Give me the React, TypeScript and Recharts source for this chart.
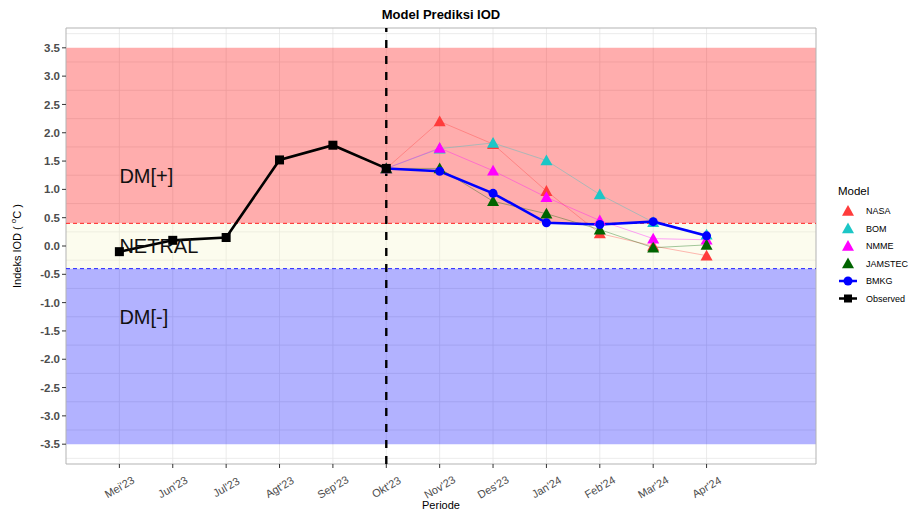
import React from 'react'
import {
  CartesianGrid,
  Line,
  LineChart,
  ReferenceArea,
  ReferenceDot,
  ReferenceLine,
  XAxis,
  YAxis
} from 'recharts'

// categories and values
const periods = ["Mei'23", "Jun'23", "Jul'23", "Agt'23", "Sep'23", "Okt'23", "Nov'23", "Des'23", "Jan'24", "Feb'24", "Mar'24", "Apr'24"]
const observed = [-0.1, 0.1, 0.15, 1.52, 1.78, 1.37, null, null, null, null, null, null]
const nasa = [null, null, null, null, null, 1.37, 2.2, 1.8, 0.97, 0.22, 0.0, -0.17]
const bom = [null, null, null, null, null, 1.37, 1.72, 1.82, 1.51, 0.91, 0.42, 0.2]
const nmme = [null, null, null, null, null, 1.37, 1.73, 1.33, 0.86, 0.45, 0.13, 0.11]
const jamstec = [null, null, null, null, null, 1.37, 1.37, 0.79, 0.57, 0.29, -0.03, 0.02]
const bmkg = [null, null, null, null, null, 1.37, 1.32, 0.93, 0.41, 0.38, 0.43, 0.18]
const yTicks = [-3.5, -3, -2.5, -2, -1.5, -1, -0.5, 0, 0.5, 1, 1.5, 2, 2.5, 3, 3.5]
const yMinor = [-3.75, -3.5, -3.25, -3, -2.75, -2.5, -2.25, -2, -1.75, -1.5, -1.25, -1, -0.75, -0.5, -0.25, 0, 0.25, 0.5, 0.75, 1, 1.25, 1.5, 1.75, 2, 2.25, 2.5, 2.75, 3, 3.25, 3.5, 3.75]
const xTicks = [0, 1, 2, 3, 4, 5, 6, 7, 8, 9, 10, 11]

const models = [
  { key: 'nasa', name: 'NASA', color: '#ff3c3c' },
  { key: 'bom', name: 'BOM', color: '#1cc6c6' },
  { key: 'nmme', name: 'NMME', color: '#ff00ff' },
  { key: 'jamstec', name: 'JAMSTEC', color: '#006400' }
]

const data = periods.map((p, i) => ({
  idx: i,
  period: p,
  observed: observed[i],
  nasa: nasa[i],
  bom: bom[i],
  nmme: nmme[i],
  jamstec: jamstec[i],
  bmkg: bmkg[i]
}))

const font = '"Liberation Sans", Arial, sans-serif'
const xDomain = [-1, 13.05]
const yDomain = [-3.85, 3.85]

const TriDot = (props: any) => {
  const { cx, cy, fill, value } = props
  if (cx == null || cy == null || value == null) return null
  const s = 6
  return <polygon points={`${cx},${cy - s} ${cx - s},${cy + s * 0.8} ${cx + s},${cy + s * 0.8}`} fill={fill} />
}

const SquareDot = (props: any) => {
  const { cx, cy, value } = props
  if (cx == null || cy == null || value == null) return null
  return <rect x={cx - 4.5} y={cy - 4.5} width={9} height={9} fill="#000" />
}

const XTick = (props: any) => {
  const { x, y, payload } = props
  const ty = y + 17
  return (
    <text x={x} y={ty} transform={`rotate(-30 ${x} ${ty})`} textAnchor="middle" dominantBaseline="central"
      fontSize={11} fill="#4d4d4d" fontFamily={font}>
      {periods[payload.value]}
    </text>
  )
}

const YLabel = (props: any) => {
  const { viewBox } = props
  const cx = viewBox.x + 17
  const cy = viewBox.y + viewBox.height / 2
  return (
    <text x={cx} y={cy} transform={`rotate(-90 ${cx} ${cy})`} textAnchor="middle" dominantBaseline="central"
      fontSize={11} fill="#000" fontFamily={font}>
      Indeks IOD ( <tspan fontSize={8} dy={-4}>o</tspan><tspan dy={4}>C )</tspan>
    </text>
  )
}

const Anno = (props: any) => {
  const { viewBox, text } = props
  return (
    <text x={viewBox.x} y={viewBox.y} dominantBaseline="central" fontSize={20} fill="#111" fontFamily={font}>
      {text}
    </text>
  )
}

const LegendBox = () => (
  <svg width={90} height={130} style={{ position: 'absolute', left: 832, top: 182, fontFamily: font }}>
    <text x={6} y={13} fontSize={11.5} fill="#000">Model</text>
    {models.map((m, i) => {
      const cy = 29 + i * 17.5
      return (
        <g key={m.key}>
          <TriDot cx={16} cy={cy} fill={m.color} value={1} />
          <text x={34} y={cy} dominantBaseline="central" fontSize={9} fill="#000">{m.name}</text>
        </g>
      )
    })}
    <g>
      <line x1={7} x2={25} y1={29 + 4 * 17.5} y2={29 + 4 * 17.5} stroke="#0000ff" strokeWidth={2.5} />
      <circle cx={16} cy={29 + 4 * 17.5} r={4.5} fill="#0000ff" />
      <text x={34} y={29 + 4 * 17.5} dominantBaseline="central" fontSize={9} fill="#000">BMKG</text>
    </g>
    <g>
      <line x1={7} x2={25} y1={29 + 5 * 17.5} y2={29 + 5 * 17.5} stroke="#000" strokeWidth={2.5} />
      <rect x={12} y={29 + 5 * 17.5 - 4} width={8} height={8} fill="#000" />
      <text x={34} y={29 + 5 * 17.5} dominantBaseline="central" fontSize={9} fill="#000">Observed</text>
    </g>
  </svg>
)

export default function App(): JSX.Element {
  return (
    <div style={{ position: 'absolute', left: 0, top: 0, width: 922, height: 512, background: '#fff', fontFamily: font }}>
      <LineChart width={922} height={512} data={data} margin={{ top: 28, right: 106, bottom: 0, left: 0 }}>
        <CartesianGrid stroke="#e6e6e6" strokeWidth={0.8} horizontalValues={yMinor} verticalValues={xTicks} />
        <XAxis dataKey="idx" type="number" domain={xDomain} ticks={xTicks}
          allowDataOverflow height={48} axisLine={false} tickSize={4} tickLine={{ stroke: '#333' }} tick={<XTick />}
          label={{ value: 'Periode', position: 'insideBottom', offset: 3, fontSize: 11, fill: '#000', fontFamily: font }} />
        <YAxis type="number" domain={yDomain} ticks={yTicks} allowDataOverflow width={66} axisLine={false}
          tickSize={4} tickMargin={2} tickLine={{ stroke: '#333' }}
          tickFormatter={(v: number) => v.toFixed(1)}
          tick={{ fontSize: 11.5, fontWeight: 'bold', fill: '#4d4d4d', fontFamily: font }}
          label={<YLabel />} />
        <ReferenceArea x1={xDomain[0]} x2={xDomain[1]} y1={0.4} y2={3.5} fill="#ff0000" fillOpacity={0.32} stroke="none" />
        <ReferenceArea x1={xDomain[0]} x2={xDomain[1]} y1={-0.4} y2={0.4} fill="#f5f5c8" fillOpacity={0.3} stroke="none" />
        <ReferenceArea x1={xDomain[0]} x2={xDomain[1]} y1={-3.5} y2={-0.4} fill="#0000ff" fillOpacity={0.3} stroke="none" />
        <ReferenceArea x1={xDomain[0]} x2={xDomain[1]} y1={yDomain[0]} y2={yDomain[1]} fill="none" stroke="#b3b3b3" strokeWidth={1} />
        <ReferenceLine y={0.4} stroke="#ff2020" strokeDasharray="4 3" strokeWidth={1} />
        <ReferenceLine y={-0.4} stroke="#2020ff" strokeDasharray="4 3" strokeWidth={1} />
        <ReferenceLine x={5} stroke="#000" strokeDasharray="8 8" strokeWidth={2.4} />
        <ReferenceDot x={0} y={1.23} r={0} fill="none" stroke="none" label={<Anno text="DM[+]" />} />
        <ReferenceDot x={0} y={0} r={0} fill="none" stroke="none" label={<Anno text="NETRAL" />} />
        <ReferenceDot x={0} y={-1.26} r={0} fill="none" stroke="none" label={<Anno text="DM[-]" />} />
        {models.map((m) => (
          <Line key={m.key} dataKey={m.key} name={m.name} stroke={m.color} strokeOpacity={0.45} strokeWidth={0.8}
            dot={<TriDot fill={m.color} />} activeDot={false} isAnimationActive={false} connectNulls={false} />
        ))}
        <Line dataKey="bmkg" name="BMKG" stroke="#0000ff" strokeWidth={2.6}
          dot={{ r: 4.5, fill: '#0000ff', stroke: 'none' }} activeDot={false} isAnimationActive={false} />
        <Line dataKey="observed" name="Observed" stroke="#000" strokeWidth={2.6}
          dot={<SquareDot />} activeDot={false} isAnimationActive={false} />
      </LineChart>
      <div style={{ position: 'absolute', top: 7, left: 0, width: 882, textAlign: 'center', fontSize: 13, fontWeight: 'bold' }}>
        Model Prediksi IOD
      </div>
      <LegendBox />
    </div>
  )
}
